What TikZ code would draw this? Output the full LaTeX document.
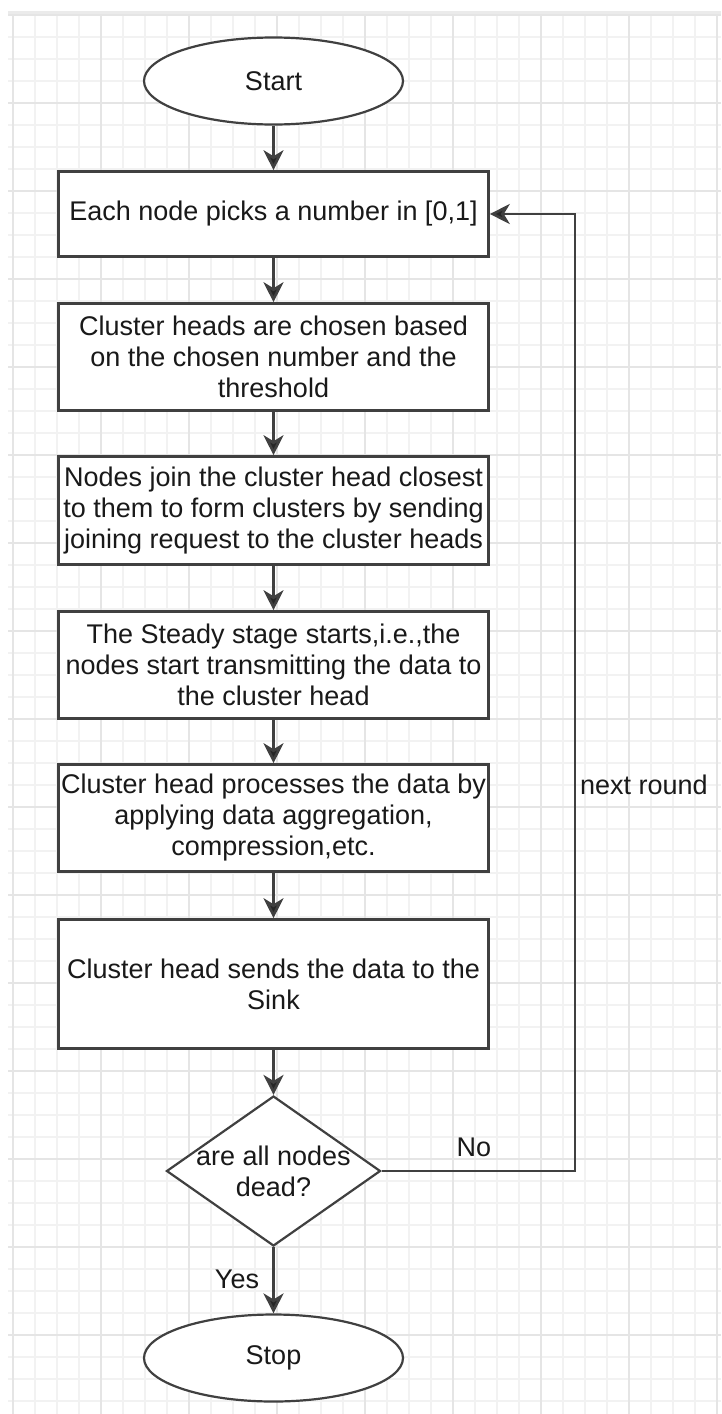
\documentclass[tikz,border=0pt]{standalone}
\usepackage{fontspec}
\setmainfont{Liberation Sans}
\usetikzlibrary{shapes.geometric,arrows.meta}
\begin{document}
\begin{tikzpicture}[x=1pt,y=-1pt,
  every node/.style={font=\fontsize{27}{31}\selectfont, text=black!90},
  gridminor/.style={draw=black!5, line width=1.4pt},
  gridmajor/.style={draw=black!10, line width=1.8pt},
  gridborder/.style={draw=black!8, line width=3pt},
  stepbox/.style={draw=black!75, line width=2.6pt, fill=white, minimum width=430pt,
    align=center, inner sep=0pt},
  terminal/.style={ellipse, draw=black!75, line width=2.2pt, fill=white,
    minimum width=259pt, minimum height=87pt, inner sep=0pt},
  decision/.style={diamond, draw=black!75, line width=2.2pt, fill=white,
    minimum width=214pt, minimum height=150pt, inner sep=0pt},
  flow/.style={draw=black!75, line width=2.6pt,
    -{Stealth[length=20pt,width=20pt,inset=6pt,fill=black!85]}},
  edgelabel/.style={inner sep=0pt}
]
% page and grid
\fill[white] (0,0) rectangle (721,1414);
\useasboundingbox (0,0) rectangle (721,1414);
\foreach \k in {0,...,32} \draw[gridminor] ({13+22*\k},14) -- ({13+22*\k},1414);
\foreach \k in {0,...,63} \draw[gridminor] (8,{15+22*\k}) -- (721,{15+22*\k});
\foreach \k in {0,...,8} \draw[gridmajor] ({13+88*\k},14) -- ({13+88*\k},1414);
\foreach \k in {0,...,15} \draw[gridmajor] (8,{15+88*\k}) -- (721,{15+88*\k});
\draw[gridborder] (8,12) -- (721,12);

% flowchart nodes
\node[terminal] (start) at (273.5,81) {Start};
\node[stepbox, minimum height=85pt] (b1) at (273.5,214) {Each node picks a number in [0,1]};
\node[stepbox, minimum height=107pt] (b2) at (273.5,357)
  {Cluster heads are chosen based\\on the chosen number and the\\threshold};
\node[stepbox, minimum height=108pt] (b3) at (273.5,510.5)
  {Nodes join the cluster head closest\\to them to form clusters by sending\\joining request to the cluster heads};
\node[stepbox, minimum height=107pt] (b4) at (273.5,665)
  {The Steady stage starts,i.e.,the\\nodes start transmitting the data to\\the cluster head};
\node[stepbox, minimum height=107pt] (b5) at (273.5,818)
  {Cluster head processes the data by\\applying data aggregation,\\compression,etc.};
\node[stepbox, minimum height=129pt] (b6) at (273.5,984)
  {Cluster head sends the data to the\\Sink};
\node[decision, label={[align=center]center:are all nodes\\dead?}] (dec) at (273.5,1171) {};
\node[terminal] (stop) at (273.5,1358) {Stop};

% connectors
\draw[flow] (start) -- (b1);
\draw[flow] (b1) -- (b2);
\draw[flow] (b2) -- (b3);
\draw[flow] (b3) -- (b4);
\draw[flow] (b4) -- (b5);
\draw[flow] (b5) -- (b6);
\draw[flow] (b6) -- (dec);
\draw[flow] (dec) -- (stop);
\coordinate (loop) at (575,1171);
\draw[flow] (dec.east) -- (loop) |- (b1.east);

% edge labels
\node[edgelabel] (no) at (474,1147) {No};
\node[edgelabel] (yes) at (237,1279) {Yes};
\node[edgelabel, anchor=west] (nr) at (580,785) {next round};
\end{tikzpicture}
\end{document}
